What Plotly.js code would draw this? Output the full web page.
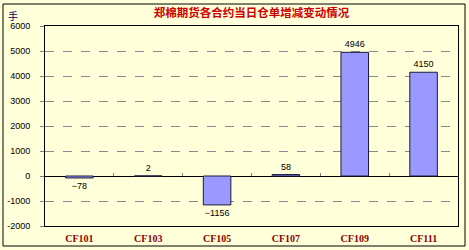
<!DOCTYPE html>
<html>
<head>
<meta charset="utf-8">
<script src="https://cdn.plot.ly/plotly-3.0.1.min.js"></script>
<style>
  html, body { margin: 0; padding: 0; background: #ffffff; }
  #chart { width: 469px; height: 250px; }
</style>
</head>
<body>
<div id="chart"></div>
<script>
// 郑棉期货各合约当日仓单增减 (手)
const contracts = ['CF101', 'CF103', 'CF105', 'CF107', 'CF109', 'CF111'];
const changes = [-78, 2, -1156, 58, 4946, 4150];
const yTicks = [-2000, -1000, 0, 1000, 2000, 3000, 4000, 5000, 6000];

const bg = '#FFFFDA';

const bars = {
  type: 'bar',
  x: contracts,
  y: changes,
  text: changes.map(v => (v < 0 ? '\u2212' + Math.abs(v) : String(v))),
  textposition: 'outside',
  cliponaxis: false,
  textfont: { family: 'Liberation Sans, Arial, sans-serif', size: 9, color: '#000000' },
  marker: { color: '#9999FF', line: { color: '#1a1a3a', width: 1 } },
  hoverinfo: 'x+y'
};

// carries the category boundary ticks drawn along the zero line
const zeroTicks = {
  type: 'scatter',
  mode: 'none',
  x: contracts.map((c, i) => i),
  y: changes,
  xaxis: 'x2',
  yaxis: 'y',
  hoverinfo: 'skip',
  showlegend: false
};

const layout = {
  width: 469,
  height: 250,
  margin: { l: 45, r: 11, t: 26, b: 24, pad: 0 },
  paper_bgcolor: bg,
  plot_bgcolor: bg,
  showlegend: false,
  bargap: 0.6,
  title: {
    text: '郑棉期货各合约当日仓单增减变动情况',
    font: { family: 'Noto Sans CJK SC, sans-serif', size: 11.5, color: '#CC0000', weight: 'bold' },
    x: 0.5, xref: 'paper', xanchor: 'center',
    y: 1, yref: 'container', yanchor: 'top', pad: { t: 9 }
  },
  xaxis: {
    type: 'category',
    categoryorder: 'array',
    categoryarray: contracts,
    showline: true, mirror: true, linecolor: '#000000', linewidth: 1,
    ticks: '', showgrid: false, zeroline: false,
    ticklabelstandoff: 3,
    tickfont: { family: 'Liberation Serif, serif', size: 10, color: '#8B0000', weight: 'bold' }
  },
  xaxis2: {
    overlaying: 'x',
    anchor: 'free',
    position: 0.25,
    range: [-0.5, 5.5],
    tick0: -0.5, dtick: 1,
    ticks: 'inside', ticklen: 3, tickcolor: '#808080', tickwidth: 1,
    showticklabels: false, showline: false, showgrid: false, zeroline: false
  },
  yaxis: {
    range: [-2000, 6000],
    tickvals: yTicks,
    ticktext: yTicks.map(String),
    showline: true, mirror: true, linecolor: '#000000', linewidth: 1,
    ticks: 'outside', ticklen: 4, tickcolor: '#808080',
    ticklabelstandoff: 8,
    showgrid: true, gridcolor: '#8a8a8a', griddash: 'dash', gridwidth: 1,
    zeroline: true, zerolinecolor: '#000000', zerolinewidth: 1,
    tickfont: { family: 'Liberation Sans, Arial, sans-serif', size: 9, color: '#000000' }
  },
  annotations: [
    {
      text: '手', xref: 'paper', yref: 'paper',
      x: -0.094, y: 1.055, xanchor: 'left', yanchor: 'middle',
      showarrow: false,
      font: { family: 'Noto Sans CJK SC, sans-serif', size: 10, color: '#000066' }
    }
  ],
  shapes: [
    {
      type: 'rect', xref: 'paper', yref: 'paper',
      x0: -0.1017, x1: 1.017, y0: -0.1, y1: 1.11,
      line: { color: '#000000', width: 1 }, fillcolor: 'rgba(0,0,0,0)', layer: 'below'
    }
  ]
};

Plotly.newPlot('chart', [bars, zeroTicks], layout, { displayModeBar: false, staticPlot: true });
</script>
</body>
</html>
